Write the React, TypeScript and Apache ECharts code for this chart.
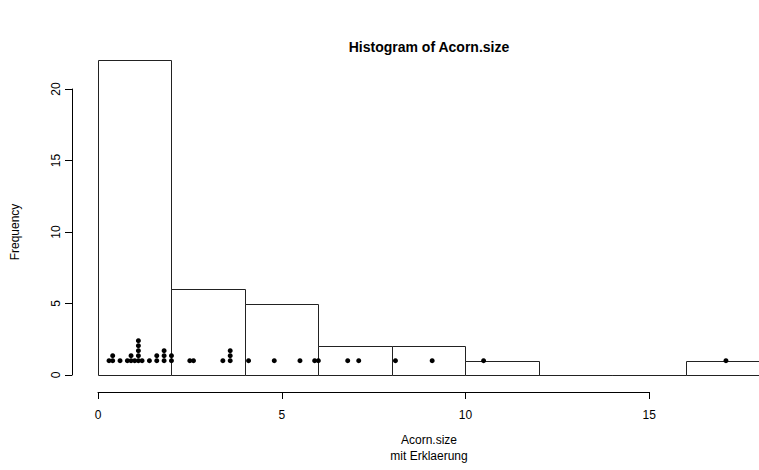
import React, { useEffect, useRef } from "react";
import * as echarts from "echarts";

// Histogram bins (breaks) and counts
const binStarts = [0, 2, 4, 6, 8, 10, 12, 14, 16];
const binEnds = [2, 4, 6, 8, 10, 12, 14, 16, 18];
const binCounts = [22, 6, 5, 2, 2, 1, 0, 0, 1];

// Individual observations (stripchart, method = "stack")
const acornSize = [
  1.4, 3.4, 9.1, 1.6, 10.5, 2.5, 0.9, 6.8, 1.8, 0.3, 0.9, 0.8, 2.0, 1.1,
  0.6, 1.8, 4.8, 1.1, 3.6, 1.1, 3.6, 8.1, 3.6, 1.8, 0.4, 1.1, 1.2, 4.1,
  1.6, 2.0, 5.5, 5.9, 2.6, 6.0, 1.0, 17.1, 0.4, 7.1, 1.1,
];

const yTicks = [0, 5, 10, 15, 20];
const xTicks = [0, 5, 10, 15];

const FONT = "'Liberation Sans', Arial, Helvetica, sans-serif";

export default function App() {
  const ref = useRef<HTMLDivElement>(null);
  useEffect(() => {
    document.body.style.margin = "0";
    if (!ref.current) return;
    const chart = echarts.init(ref.current, null, { renderer: "svg" });

    const stackStep = 0.35;
    const seen: Record<string, number> = {};
    const dots = acornSize.map((v) => {
      const k = v.toFixed(2);
      const lvl = seen[k] || 0;
      seen[k] = lvl + 1;
      return [v, 1 + lvl * stackStep];
    });

    const bars = binStarts.map((s, i) => [s, binEnds[i], binCounts[i]]);

    const pxPerX = 36.75;
    const pxPerY = 14.3;
    const y0 = 375;
    const x0 = 98;

    chart.setOption({
      animation: false,
      grid: [
        { left: x0, top: y0 - 22 * pxPerY, width: 18 * pxPerX, height: 22 * pxPerY },
        { left: 72, top: y0 - 20 * pxPerY, width: 10, height: 20 * pxPerY },
        { left: x0, top: 300, width: 15 * pxPerX, height: 92 },
      ],
      xAxis: [
        { gridIndex: 0, type: "value", min: 0, max: 18, show: false },
        { gridIndex: 1, type: "value", min: 0, max: 1, show: false },
        {
          gridIndex: 2,
          type: "value",
          min: 0,
          max: 15,
          interval: 5,
          axisLine: { show: true, lineStyle: { color: "#000", width: 1 } },
          axisTick: { show: true, length: 7, lineStyle: { color: "#000" } },
          axisLabel: {
            color: "#000",
            fontFamily: FONT,
            fontSize: 12,
            margin: 17,
            customValues: xTicks,
          },
          splitLine: { show: false },
        },
      ],
      yAxis: [
        { gridIndex: 0, type: "value", min: 0, max: 22, show: false },
        {
          gridIndex: 1,
          type: "value",
          min: 0,
          max: 20,
          interval: 5,
          axisLine: { show: true, lineStyle: { color: "#000", width: 1 } },
          axisTick: { show: true, length: 7, lineStyle: { color: "#000" } },
          axisLabel: {
            color: "#000",
            fontFamily: FONT,
            fontSize: 12,
            rotate: 90,
            margin: 10,
            customValues: yTicks,
          },
          splitLine: { show: false },
        },
        { gridIndex: 2, type: "value", min: 0, max: 1, show: false },
      ],
      series: [
        {
          type: "custom",
          xAxisIndex: 0,
          yAxisIndex: 0,
          data: bars,
          clip: false,
          renderItem: (params: any, api: any) => {
            const p0 = api.coord([api.value(0), api.value(2)]);
            const p1 = api.coord([api.value(1), 0]);
            return {
              type: "rect",
              shape: {
                x: Math.round(p0[0]) + 0.5,
                y: Math.round(p0[1]) + 0.5,
                width: Math.round(p1[0]) - Math.round(p0[0]),
                height: Math.round(p1[1]) - Math.round(p0[1]),
              },
              style: { fill: "#fff", stroke: "#222", lineWidth: 1 },
            };
          },
        },
        {
          type: "scatter",
          xAxisIndex: 0,
          yAxisIndex: 0,
          data: dots,
          symbol: "circle",
          symbolSize: 5,
          itemStyle: { color: "#000", opacity: 1 },
          z: 5,
        },
      ],
      graphic: [
        {
          type: "text",
          x: 429,
          y: 47,
          style: {
            text: "Histogram of Acorn.size",
            font: `bold 14px ${FONT}`,
            fill: "#000",
            textAlign: "center",
            textVerticalAlign: "middle",
          },
        },
        {
          type: "text",
          x: 429,
          y: 440,
          style: {
            text: "Acorn.size",
            font: `12px ${FONT}`,
            fill: "#000",
            textAlign: "center",
            textVerticalAlign: "middle",
          },
        },
        {
          type: "text",
          x: 429,
          y: 456,
          style: {
            text: "mit Erklaerung",
            font: `12px ${FONT}`,
            fill: "#000",
            textAlign: "center",
            textVerticalAlign: "middle",
          },
        },
        {
          type: "text",
          x: 15,
          y: 232,
          rotation: Math.PI / 2,
          style: {
            text: "Frequency",
            font: `12px ${FONT}`,
            fill: "#000",
            textAlign: "center",
            textVerticalAlign: "middle",
          },
        },
      ],
    });
    return () => chart.dispose();
  }, []);
  return <div ref={ref} style={{ width: 759, height: 470 }} />;
}
